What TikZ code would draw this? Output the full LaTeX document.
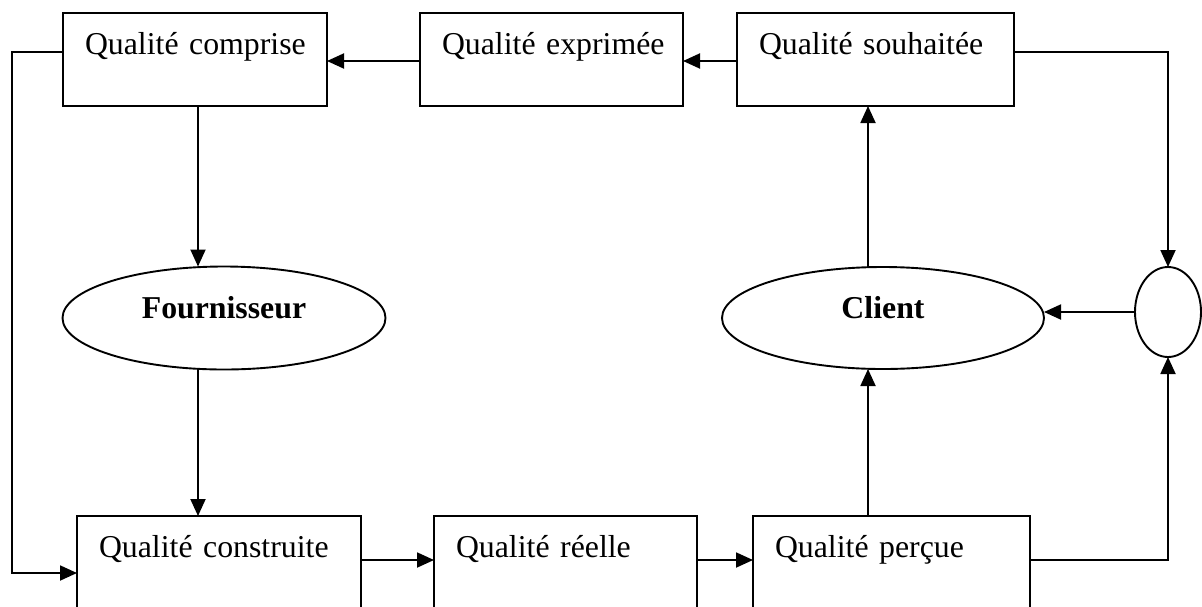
\documentclass[tikz,border=0pt]{standalone}
\usepackage{fontspec}
\setmainfont{Liberation Serif}
\usetikzlibrary{positioning, shapes.geometric, arrows.meta}
\tikzstyle{Arrow} = [line width=1.9pt, -{Triangle[length=17pt, width=15pt]}]
\tikzstyle{Box} = [draw, line width=1.9pt, outer sep=0pt, inner xsep=22pt, inner ysep=0pt,
text height=41pt, text depth=52pt, align=left, font=\fontsize{31.8pt}{38pt}\selectfont]
\tikzstyle{Oval} = [draw, ellipse, line width=1.9pt, outer sep=0pt, inner sep=0pt,
text height=21pt, text depth=20pt, font=\fontsize{31.8pt}{38pt}\selectfont\bfseries]

\begin{document}
\begin{tikzpicture}[x=1pt, y=-1pt]
    \useasboundingbox (0,0) rectangle (1202,606);
    \node [Box, text width=220pt, anchor=north west] (comprise) at (63,13) {\mbox{Qualité comprise}};
    \node [Box, text width=219pt, right=93pt of comprise] (exprimee) {\mbox{Qualité exprimée}};
    \node [Box, text width=233pt, right=54pt of exprimee] (souhaitee) {\mbox{Qualité souhaitée}};
    \node [Box, text width=240pt, anchor=north west] (construite) at (77,516) {\mbox{Qualité construite}};
    \node [Box, text width=219pt, right=73pt of construite] (reelle) {\mbox{Qualité réelle}};
    \node [Box, text width=233pt, right=56pt of reelle] (percue) {\mbox{Qualité perçue}};
    \node [Oval, minimum width=323pt, minimum height=103pt] (fournisseur) at (224,318) {Fournisseur};
    \node [Oval, minimum width=322pt, minimum height=102pt] (client) at (883,318) {Client};
    \node [Oval, minimum width=66pt, minimum height=90pt] (rond) at (1168,312) {};
    \coordinate (gauche) at ([xshift=3pt]comprise.south);
    \coordinate (axe) at (868,0);
    \draw [Arrow] ([yshift=-1.5pt]exprimee.west) -- ([yshift=-1.5pt]comprise.east);
    \draw [Arrow] ([yshift=-1.5pt]souhaitee.west) -- ([yshift=-1.5pt]exprimee.east);
    \draw [Arrow] ([yshift=2.5pt]construite.east) -- ([yshift=2.5pt]reelle.west);
    \draw [Arrow] ([yshift=2.5pt]reelle.east) -- ([yshift=2.5pt]percue.west);
    \draw [Arrow] (gauche) -- (gauche |- fournisseur.north);
    \draw [Arrow] (gauche |- fournisseur.south) -- (gauche |- construite.north);
    \draw [Arrow] ([yshift=7.5pt]comprise.west) -- ++(-51,0) |- ([yshift=-10.5pt]construite.west);
    \draw [Arrow] ([yshift=7.5pt]souhaitee.east) -| (rond.north);
    \draw [Arrow] ([yshift=2.5pt]percue.east) -| (rond.south);
    \draw [Arrow] (rond.west) -- (rond.west -| client.east);
    \draw [Arrow] (axe |- percue.north) -- (axe |- client.south);
    \draw [Arrow] (axe |- client.north) -- (axe |- souhaitee.south);
\end{tikzpicture}
\end{document}
